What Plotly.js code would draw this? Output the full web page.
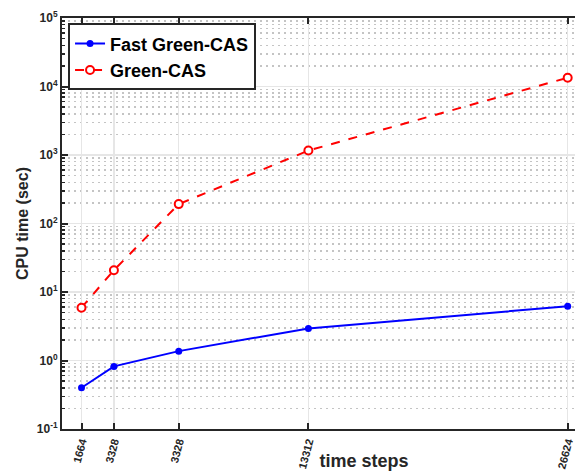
<!DOCTYPE html>
<html><head><meta charset="utf-8">
<script src="https://cdn.plot.ly/plotly-3.0.1.min.js"></script>
<style>html,body{margin:0;padding:0;overflow:hidden;background:#fff}</style>
</head><body><div id="chart" style="width:680px;height:471px"></div>
<script>
const timeSteps = [1664, 3328, 6656, 13312, 26624];
const xTickLabels = ['1664', '3328', '3328', '13312', '26624'];
const fastGreenCAS = [0.40, 0.82, 1.37, 2.94, 6.2];
const greenCAS = [5.9, 20.8, 192, 1160, 13450];
const yTickVals = [0.1, 1, 10, 100, 1000, 10000, 100000];
const yTickText = ['10<sup>-1</sup>', '10<sup>0</sup>', '10<sup>1</sup>', '10<sup>2</sup>', '10<sup>3</sup>', '10<sup>4</sup>', '10<sup>5</sup>'];

const minorVals = [];
for (let e = -1; e < 5; e++) for (let d = 2; d <= 9; d++) minorVals.push(d * Math.pow(10, e));

const FONT = 'Liberation Sans, Arial, Helvetica, sans-serif';
const AX = '#262626';

const traces = [
  {x: timeSteps, y: fastGreenCAS, name: '<b>Fast Green-CAS</b>', type: 'scatter', mode: 'lines+markers',
   line: {color: '#0000ff', width: 2}, marker: {color: '#0000ff', size: 7, symbol: 'circle'}},
  {x: timeSteps, y: greenCAS, name: '<b>Green-CAS</b>', type: 'scatter', mode: 'lines+markers',
   line: {color: '#ff0000', width: 2, dash: 'dash'},
   marker: {color: '#ffffff', size: 8, symbol: 'circle', line: {color: '#ff0000', width: 2}}}
];

const layout = {
  width: 680, height: 471,
  margin: {l: 62, r: 14, t: 18, b: 42, pad: 0},
  paper_bgcolor: '#ffffff', plot_bgcolor: '#ffffff',
  font: {family: FONT, color: AX},
  showlegend: true,
  legend: {x: 0.01, y: 0.987, xanchor: 'left', yanchor: 'top', bgcolor: '#ffffff',
           bordercolor: AX, borderwidth: 2, font: {family: FONT, size: 18, color: '#000000'}},
  xaxis: {
    type: 'linear', range: [663, 31671], autorange: false,
    tickmode: 'array', tickvals: timeSteps, ticktext: xTickLabels,
    tickangle: -75, tickfont: {family: FONT, size: 11, color: AX, weight: 'bold'},
    ticks: 'inside', ticklen: 6, tickwidth: 2, tickcolor: AX,
    showline: true, linecolor: AX, linewidth: 2, mirror: 'ticks',
    showgrid: true, gridcolor: '#e6e6e6', gridwidth: 1.5, zeroline: false,
    title: {text: '<b>time steps</b>', font: {family: FONT, size: 18, color: AX}}
  },
  yaxis: {
    type: 'log', range: [-1, 5], autorange: false,
    tickmode: 'array', tickvals: yTickVals, ticktext: yTickText,
    tickfont: {family: FONT, size: 12, color: AX, weight: 'bold'},
    ticks: 'inside', ticklen: 6, tickwidth: 2, tickcolor: AX,
    showline: true, linecolor: AX, linewidth: 2, mirror: 'ticks',
    showgrid: true, gridcolor: '#e6e6e6', gridwidth: 1.5, zeroline: false,
    minor: {tickmode: 'array', tickvals: minorVals, ticks: 'inside', ticklen: 3, tickwidth: 1.5, tickcolor: AX,
            showgrid: true, gridcolor: '#c4c4c4', griddash: '2px,4px', gridwidth: 1.5},
    title: {text: '<b>CPU time (sec)</b>', standoff: 4, font: {family: FONT, size: 16, color: AX}}
  }
};

Plotly.newPlot('chart', traces, layout, {displayModeBar: false, staticPlot: true});
</script></body></html>
